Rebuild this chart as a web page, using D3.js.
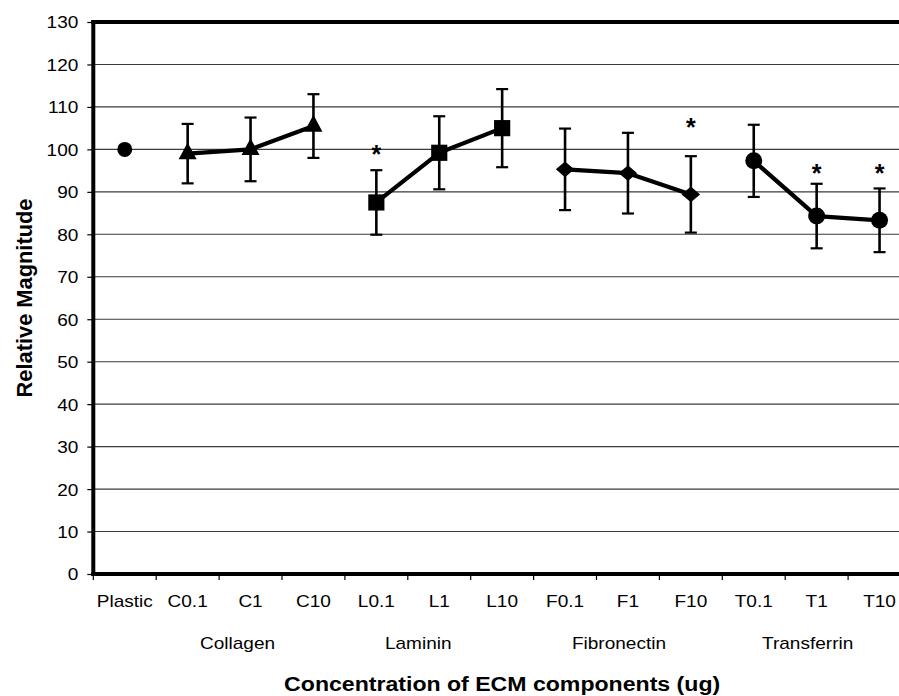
<!DOCTYPE html>
<html><head><meta charset="utf-8">
<script src="https://cdn.jsdelivr.net/npm/d3@7"></script>
<style>body{margin:0;background:#fff}svg{display:block}text{font-family:"Liberation Sans",Arial,sans-serif;fill:#000}</style>
</head><body><svg id="c" width="899" height="696"></svg>
<script>
const categories = ["Plastic","C0.1","C1","C10","L0.1","L1","L10","F0.1","F1","F10","T0.1","T1","T10"];
const yTicks = [0,10,20,30,40,50,60,70,80,90,100,110,120,130];
const groupNames = ["Collagen","Laminin","Fibronectin","Transferrin"];
const plasticValue = 100;
const collagenCats = ["C0.1","C1","C10"];
const collagenValues = [99, 100, 105.5];
const collagenErr = [7, 7.5, 7.5];
const lamininCats = ["L0.1","L1","L10"];
const lamininValues = [87.5, 99.2, 105];
const lamininErr = [7.6, 8.6, 9.2];
const fibronectinCats = ["F0.1","F1","F10"];
const fibronectinValues = [95.3, 94.4, 89.4];
const fibronectinErr = [9.6, 9.5, 9];
const transferrinCats = ["T0.1","T1","T10"];
const transferrinValues = [97.3, 84.3, 83.3];
const transferrinErr = [8.5, 7.6, 7.5];
const starCats = ["L0.1","F10","T1","T10"];
const starValues = [100.2, 106.5, 95.5, 95.5];

(function(){
const svg = d3.select("#c");
const pLeft = 93.3, pTop = 22, pBottom = 574, step = 62.9;
const x = d3.scaleBand().domain(categories).range([pLeft, pLeft + step*categories.length]).paddingInner(0).paddingOuter(0);
const y = d3.scaleLinear().domain([0,130]).range([pBottom, pTop]);
const SX = 1.12;

svg.append("g").selectAll("line").data(yTicks.filter(d=>d>0 && d<130)).join("line")
  .attr("x1", pLeft).attr("x2", 899).attr("y1", d=>y(d)).attr("y2", d=>y(d))
  .attr("stroke", "#3a3a3a").attr("stroke-width", 1.1);
svg.append("line").attr("x1", pLeft-2).attr("x2", 899).attr("y1", y(130)).attr("y2", y(130))
  .attr("stroke", "#000").attr("stroke-width", 4);

const ya = svg.append("g").attr("transform", `translate(${pLeft},0)`)
  .call(d3.axisLeft(y).tickValues(yTicks).tickSize(6).tickSizeOuter(0));
ya.select(".domain").attr("stroke-width", 4).attr("d", `M0,${pTop-2}V${pBottom+2}`);
ya.selectAll(".tick line").attr("stroke-width", 1.2);
ya.selectAll(".tick text").attr("x", -15/SX).attr("dy", "0.35em")
  .attr("transform", `scale(${SX},1)`).style("font-size", "17px");

const xa = svg.append("g").attr("transform", `translate(0,${pBottom})`)
  .call(d3.axisBottom(x).tickSize(0).tickSizeOuter(0));
xa.select(".domain").attr("stroke-width", 4).attr("d", `M${pLeft-2},0H899`);
xa.selectAll(".tick text").attr("y", 33).attr("dy", 0)
  .attr("transform", `scale(${SX},1)`).style("font-size", "17px");
svg.append("g").selectAll("line").data(categories).join("line")
  .attr("x1", d=>x(d)).attr("x2", d=>x(d)).attr("y1", pBottom+2).attr("y2", pBottom+6)
  .attr("stroke", "#000").attr("stroke-width", 1.2);

const groupMid = ["C1","L1","F1","T1"];
const groupOff = [-13,-21,-9,-9];
svg.append("g").selectAll("text").data(groupNames).join("text")
  .attr("transform", (d,i)=>`translate(${x(groupMid[i])+x.bandwidth()/2+groupOff[i]},649) scale(${SX},1)`)
  .attr("text-anchor","middle").style("font-size","17px").text(d=>d);

svg.append("text").attr("transform", `translate(${(pLeft+x.range()[1])/2},691) scale(1.1,1)`)
  .attr("text-anchor","middle").style("font-size","21px").style("font-weight","bold")
  .text("Concentration of ECM components (ug)");
svg.append("text").attr("transform", `translate(32,${(pTop+pBottom)/2}) rotate(-90) scale(1.04,1.08)`)
  .attr("text-anchor","middle").style("font-size","21px").style("font-weight","bold")
  .text("Relative Magnitude");

const cx = c => x(c) + x.bandwidth()/2;
const series = [
  {cats: collagenCats, vals: collagenValues, err: collagenErr, mark: "tri"},
  {cats: lamininCats, vals: lamininValues, err: lamininErr, mark: "sq"},
  {cats: fibronectinCats, vals: fibronectinValues, err: fibronectinErr, mark: "dia"},
  {cats: transferrinCats, vals: transferrinValues, err: transferrinErr, mark: "circ"}
];
const line = d3.line().x(d=>d[0]).y(d=>d[1]);
series.forEach(s => {
  const pts = s.cats.map((c,i)=>({c, v:s.vals[i], e:s.err[i]}));
  const g = svg.append("g");
  pts.forEach(p => {
    const X = cx(p.c);
    g.append("line").attr("x1",X).attr("x2",X).attr("y1",y(p.v+p.e)).attr("y2",y(p.v-p.e)).attr("stroke","#000").attr("stroke-width",2.6);
    [p.v+p.e, p.v-p.e].forEach(v => g.append("line").attr("x1",X-6).attr("x2",X+6).attr("y1",y(v)).attr("y2",y(v)).attr("stroke","#000").attr("stroke-width",2.2));
  });
  g.append("path").datum(pts.map(p=>[cx(p.c), y(p.v)])).attr("d", line)
    .attr("fill","none").attr("stroke","#000").attr("stroke-width",4.2).attr("stroke-linejoin","round");
  pts.forEach(p => {
    const X = cx(p.c), Y = y(p.v);
    if (s.mark === "tri") g.append("path").attr("d", d3.symbol(d3.symbolTriangle, 140)()).attr("transform",`translate(${X},${Y}) scale(1,1.08)`);
    else if (s.mark === "sq") g.append("path").attr("d", d3.symbol(d3.symbolSquare, 262)()).attr("transform",`translate(${X},${Y})`);
    else if (s.mark === "dia") g.append("path").attr("d", d3.symbol(d3.symbolSquare, 170)()).attr("transform",`translate(${X},${Y}) scale(1,0.85) rotate(45)`);
    else g.append("circle").attr("cx",X).attr("cy",Y).attr("r",8.5);
  });
});
svg.append("circle").attr("cx", cx("Plastic")).attr("cy", y(plasticValue)).attr("r", 7.5);

svg.append("g").selectAll("text").data(starCats).join("text")
  .attr("x", d=>cx(d)).attr("y", (d,i)=>y(starValues[i]) + 14)
  .attr("text-anchor","middle").style("font-size","25px").style("font-weight","bold").text("*");
})();
</script></body></html>
